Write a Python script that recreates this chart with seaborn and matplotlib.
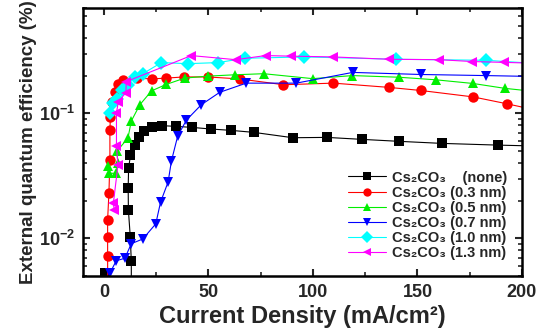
import numpy as np
import pandas as pd
import matplotlib
matplotlib.use("Agg")
import matplotlib.pyplot as plt
import matplotlib.ticker as mticker
import seaborn as sns

# ---- data ----
labels = ["Cs\u2082CO\u2083    (none)", "Cs\u2082CO\u2083 (0.3 nm)", "Cs\u2082CO\u2083 (0.5 nm)",
          "Cs\u2082CO\u2083 (0.7 nm)", "Cs\u2082CO\u2083 (1.0 nm)", "Cs\u2082CO\u2083 (1.3 nm)"]

x_none = [0.3, 13.1, 13.1, 12.6, 11.7, 11.6, 11.8, 12.7, 14.7, 16.6, 19.1, 22.8, 28.0, 34.7, 41.9,
          51.1, 61.0, 71.7, 90.4, 106.6, 123.5, 141.3, 161.7, 188.7, 210]
y_none = [0.0053, 0.0035, 0.00653, 0.0103, 0.0169, 0.0254, 0.0363, 0.0462, 0.0556, 0.0644, 0.0721,
          0.0771, 0.0795, 0.0785, 0.0771, 0.0748, 0.0729, 0.0703, 0.0637, 0.0641, 0.0618, 0.0596,
          0.0574, 0.0556, 0.0545]

x_03 = [1.8, 1.77, 1.77, 1.77, 2.39, 2.86, 2.86, 3.1, 3.8, 5.25, 6.9, 9.2, 15.6, 22.8, 29.9, 38.3,
        49.8, 64.9, 85.9, 109.8, 136.2, 151.6, 176.7, 192.8, 210]
y_03 = [0.004, 0.00726, 0.0103, 0.0141, 0.0230, 0.0422, 0.0735, 0.0934, 0.124, 0.149, 0.172, 0.185,
        0.191, 0.188, 0.191, 0.195, 0.195, 0.188, 0.169, 0.174, 0.161, 0.152, 0.135, 0.119, 0.103]

x_05 = [1.9, 2.6, 5.7, 6.7, 6.2, 11.5, 13.1, 17.2, 22.8, 29.8, 38.7, 49.8, 62.8, 76.4, 99.9, 118.9,
        141.1, 158.8, 176.5, 191.9, 210]
y_05 = [0.0377, 0.0331, 0.0331, 0.0399, 0.0497, 0.0633, 0.0867, 0.117, 0.151, 0.170, 0.191, 0.198,
        0.203, 0.207, 0.189, 0.200, 0.194, 0.185, 0.173, 0.158, 0.147]

x_07 = [3.0, 5.9, 10.0, 13.1, 18.6, 24.8, 27.1, 30.7, 32.3, 35.3, 39.5, 46.6, 55.4, 68.1, 92.0, 119.0,
        151.8, 182.6, 210]
y_07 = [0.00533, 0.00662, 0.00693, 0.00906, 0.00988, 0.01305, 0.0195, 0.0282, 0.0416, 0.0658, 0.0883,
        0.117, 0.147, 0.174, 0.174, 0.212, 0.204, 0.200, 0.196]

x_10 = [2.7, 4.3, 6.2, 8.6, 11.5, 14.8, 18.6, 27.5, 40.1, 54.6, 67.3, 95.9, 139.9, 182.7, 210]
y_10 = [0.1005, 0.121, 0.130, 0.154, 0.169, 0.196, 0.207, 0.254, 0.249, 0.254, 0.275, 0.282, 0.270,
        0.265, 0.248]

x_13 = [5.0, 4.5, 6.7, 6.0, 6.0, 6.9, 10.5, 10.7, 41.8, 63.0, 77.3, 89.3, 109.5, 136.5, 160.4, 176.0,
        191.4, 210]
y_13 = [0.0167, 0.0190, 0.0384, 0.0546, 0.1005, 0.124, 0.146, 0.179, 0.289, 0.268, 0.289, 0.286,
        0.282, 0.270, 0.268, 0.259, 0.255, 0.250]

xs = [x_none, x_03, x_05, x_07, x_10, x_13]
ys = [y_none, y_03, y_05, y_07, y_10, y_13]

colors = ["#000000", "#ff0000", "#00ee00", "#0000ff", "#00ffff", "#ff00ff"]
markers = ["s", "o", "^", "v", "D", "<"]

frames = []
for lab, xx, yy in zip(labels, xs, ys):
    frames.append(pd.DataFrame({"J": xx, "EQE": yy, "series": lab}))
df = pd.concat(frames, ignore_index=True)

# ---- style ----
sns.set_style("ticks")
plt.rcParams["font.family"] = ["Liberation Sans", "DejaVu Sans"]
plt.rcParams["font.weight"] = "bold"
plt.rcParams["mathtext.fontset"] = "custom"
plt.rcParams["mathtext.rm"] = "Liberation Sans:bold"
plt.rcParams["mathtext.bf"] = "Liberation Sans:bold"

fig = plt.figure(figsize=(5.43, 3.34), dpi=100)
ax = fig.add_axes([0.1529, 0.1737, 0.8084, 0.8038])

sns.lineplot(data=df, x="J", y="EQE", hue="series", style="series",
             hue_order=labels, style_order=labels,
             palette=dict(zip(labels, colors)), markers=dict(zip(labels, markers)),
             dashes=False, sort=False, estimator=None, units="series",
             linewidth=0.8, markersize=7.5, markeredgewidth=0, ax=ax, legend=True)

ax.set_yscale("log")
ax.set_xlim(-10, 200)
ax.set_ylim(0.005, 0.7)

ax.set_xticks([0, 50, 100, 150, 200])
ax.xaxis.set_minor_locator(mticker.MultipleLocator(25))
ax.set_yticks([0.01, 0.1])
ax.set_yticklabels([r"$\mathbf{10^{-2}}$", r"$\mathbf{10^{-1}}$"])
ax.yaxis.set_minor_locator(mticker.LogLocator(base=10, subs=np.arange(2, 10)))
ax.yaxis.set_minor_formatter(mticker.NullFormatter())

ax.tick_params(axis="both", which="both", direction="in", top=True, right=True)
ax.tick_params(axis="both", which="major", length=5, width=1.5, labelsize=13, pad=6)
ax.tick_params(axis="both", which="minor", length=3, width=1.2)
for t in ax.get_xticklabels():
    t.set_fontweight("bold")

for s in ax.spines.values():
    s.set_linewidth(1.8)
    s.set_color("black")

ax.set_xlabel("Current Density (mA/cm\u00b2)", fontsize=17, fontweight="bold", labelpad=3)
ax.set_ylabel("External quantum efficiency (%)", fontsize=13.5, fontweight="bold", labelpad=1)

handles, labs = ax.get_legend_handles_labels()
hmap = dict(zip(labs, handles))
leg = ax.legend([hmap[l] for l in labels], labels, loc="lower right", frameon=False,
                fontsize=10.5, handlelength=2.6, handletextpad=0.4, labelspacing=0.08,
                borderaxespad=0.3, bbox_to_anchor=(0.99, 0.02))
for t in leg.get_texts():
    t.set_fontweight("bold")
for h in leg.legend_handles:
    h.set_markersize(6)

fig.savefig("out.png", dpi=100)
